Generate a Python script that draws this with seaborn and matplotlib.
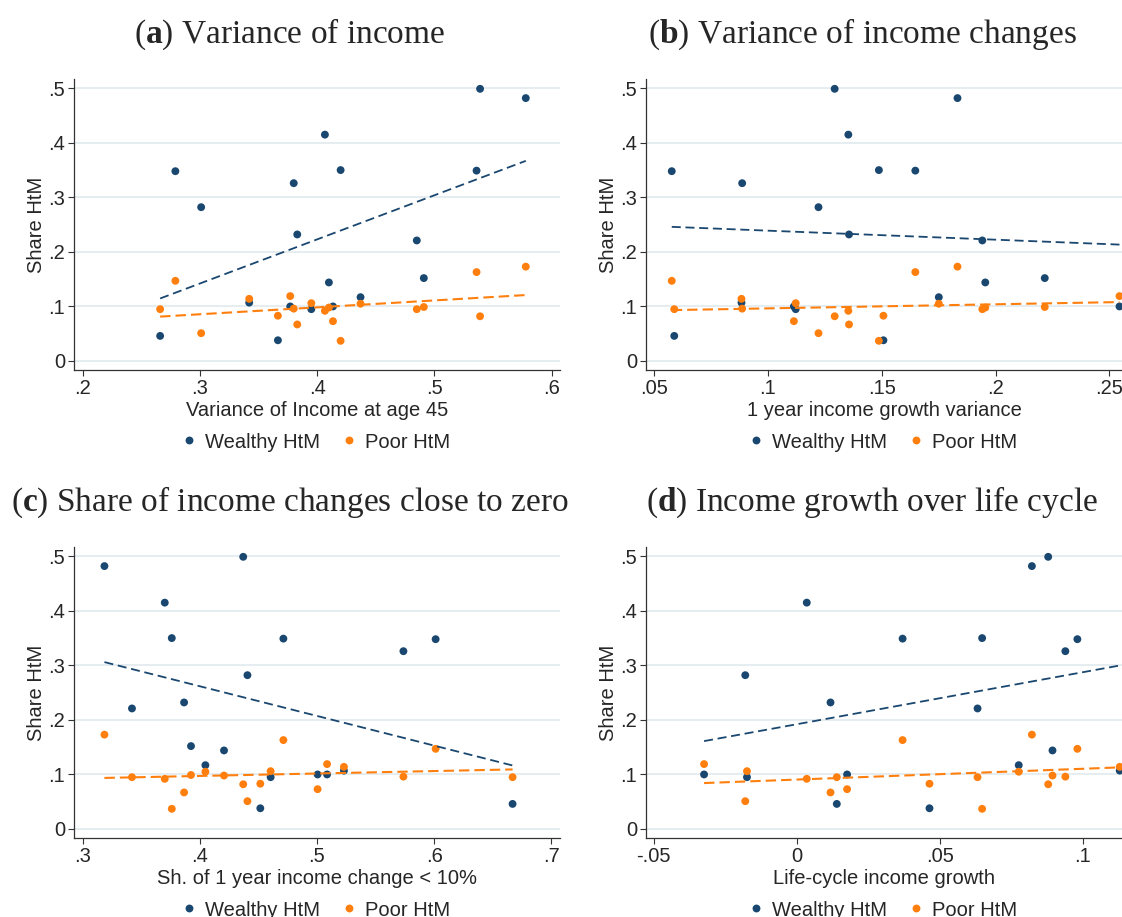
import numpy as np
import pandas as pd
import matplotlib
matplotlib.use("Agg")
import matplotlib.pyplot as plt
import seaborn as sns

# ---------------- data (one entry per unit) ----------------
wealthy_htm = [0.046, 0.348, 0.282, 0.107, 0.038, 0.100, 0.326, 0.232, 0.095, 0.415,
               0.144, 0.100, 0.350, 0.117, 0.221, 0.152, 0.349, 0.499, 0.482]
poor_htm = [0.095, 0.147, 0.051, 0.114, 0.083, 0.119, 0.096, 0.067, 0.106, 0.092,
            0.098, 0.073, 0.037, 0.105, 0.095, 0.099, 0.163, 0.082, 0.173]
var_income_45 = [0.266, 0.279, 0.301, 0.342, 0.3665, 0.377, 0.380, 0.383, 0.395, 0.4066,
                 0.410, 0.4135, 0.420, 0.437, 0.485, 0.491, 0.536, 0.539, 0.578]
growth_var_1y = [0.059, 0.0579, 0.1223, 0.0885, 0.1508, 0.2544, 0.0888, 0.1357, 0.1123, 0.1354,
                 0.1955, 0.1115, 0.1488, 0.1751, 0.1942, 0.2216, 0.1648, 0.1294, 0.1833]
share_small_change = [0.667, 0.6013, 0.4406, 0.523, 0.4516, 0.5086, 0.5738, 0.3865, 0.4604, 0.370,
                      0.4206, 0.5005, 0.376, 0.4047, 0.342, 0.3924, 0.4713, 0.437, 0.3185]
lifecycle_growth = [0.014, 0.0981, -0.018, 0.1129, 0.0464, -0.0324, 0.0939, 0.0118, -0.0174, 0.0035,
                    0.0894, 0.0176, 0.0648, 0.0776, 0.0632, np.nan, 0.037, 0.0879, 0.0822]

series_names = ["Wealthy HtM", "Poor HtM"]
panel_titles = [r"($\mathbf{a}$) Variance of income",
                r"($\mathbf{b}$) Variance of income changes",
                r"($\mathbf{c}$) Share of income changes close to zero",
                r"($\mathbf{d}$) Income growth over life cycle"]
x_labels = ["Variance of Income at age 45", "1 year income growth variance",
            "Sh. of 1 year income change < 10%", "Life-cycle income growth"]
y_label = "Share HtM"
y_ticks = [0, 0.1, 0.2, 0.3, 0.4, 0.5]
y_ticklabels = ["0", ".1", ".2", ".3", ".4", ".5"]
x_ticks = [[0.2, 0.3, 0.4, 0.5, 0.6],
           [0.05, 0.1, 0.15, 0.2, 0.25],
           [0.3, 0.4, 0.5, 0.6, 0.7],
           [-0.05, 0, 0.05, 0.1]]
x_ticklabels = [[".2", ".3", ".4", ".5", ".6"],
                [".05", ".1", ".15", ".2", ".25"],
                [".3", ".4", ".5", ".6", ".7"],
                ["-.05", "0", ".05", ".1"]]
x_values = [var_income_45, growth_var_1y, share_small_change, lifecycle_growth]

# ---------------- style ----------------
sns.set_theme(style="white")
plt.rcParams["font.family"] = ["Liberation Sans", "DejaVu Sans"]
plt.rcParams["mathtext.fontset"] = "custom"
plt.rcParams["mathtext.rm"] = "Liberation Serif"
plt.rcParams["mathtext.bf"] = "Liberation Serif:bold"

NAVY = "#1a476f"
ORANGE = "#ff7f0e"
palette = {series_names[0]: NAVY, series_names[1]: ORANGE}

W, H = 1122, 917
fig = plt.figure(figsize=(W / 100, H / 100), dpi=100)

# axes rectangles in pixels: left, right, top, bottom
rects = [(74, 560, 79, 370), (646, 1122, 79, 370),
         (74, 560, 547, 838), (646, 1122, 547, 838)]
xlims = [(0.1925, 0.6072), (0.0466, 0.2555), (0.2925, 0.7075), (-0.0527, 0.1137)]
ylim = (-0.0165, 0.517)
title_pos = [(290, 43), (862, 43), (290, 511), (872, 511)]

FS = 14.5
for i in range(4):
    l, r, t, b = rects[i]
    ax = fig.add_axes([l / W, 1 - b / H, (r - l) / W, (b - t) / H])
    df = pd.DataFrame({
        "x": list(x_values[i]) * 2,
        "y": wealthy_htm + poor_htm,
        "group": [series_names[0]] * len(wealthy_htm) + [series_names[1]] * len(poor_htm),
    }).dropna()
    ax.grid(axis="y", color="#e4ecef", lw=1.3, zorder=0)
    ax.grid(axis="x", visible=False)
    sns.scatterplot(data=df, x="x", y="y", hue="group", palette=palette, s=32,
                    linewidth=0, ax=ax, zorder=3)
    sub_w = df[df.group == series_names[0]]
    sub_p = df[df.group == series_names[1]]
    sns.regplot(data=sub_w, x="x", y="y", scatter=False, ci=None, color=NAVY, ax=ax,
                line_kws={"lw": 1.3, "dashes": (5, 2.6), "zorder": 4})
    sns.regplot(data=sub_p, x="x", y="y", scatter=False, ci=None, color=ORANGE, ax=ax,
                line_kws={"lw": 1.5, "dashes": (5, 2.4), "zorder": 4})
    ax.set_xlim(*xlims[i])
    ax.set_ylim(*ylim)
    ax.set_xticks(x_ticks[i])
    ax.set_xticklabels(x_ticklabels[i])
    ax.set_yticks(y_ticks)
    ax.set_yticklabels(y_ticklabels)
    ax.set_xlabel(x_labels[i], fontsize=FS, labelpad=2)
    ax.set_ylabel(y_label, fontsize=FS, labelpad=2)
    ax.tick_params(axis="both", labelsize=FS, direction="out", length=4.3, width=0.8,
                   color="#333333", pad=2, bottom=True, left=True)
    for side in ["top", "right"]:
        ax.spines[side].set_visible(False)
    for side in ["left", "bottom"]:
        ax.spines[side].set_color("#333333")
        ax.spines[side].set_linewidth(0.9)
    ax.patch.set_alpha(0)
    leg = ax.legend(loc="center", bbox_to_anchor=(0.5, -72 / (b - t)), ncol=2,
                    frameon=False, fontsize=FS, handlelength=0.5, handletextpad=0.55,
                    columnspacing=1.2, markerscale=1.0)
    fig.text(title_pos[i][0] / W, 1 - title_pos[i][1] / H, panel_titles[i],
             fontsize=24, family="Liberation Serif", ha="center", va="baseline")

fig.savefig("out.png", dpi=100)
